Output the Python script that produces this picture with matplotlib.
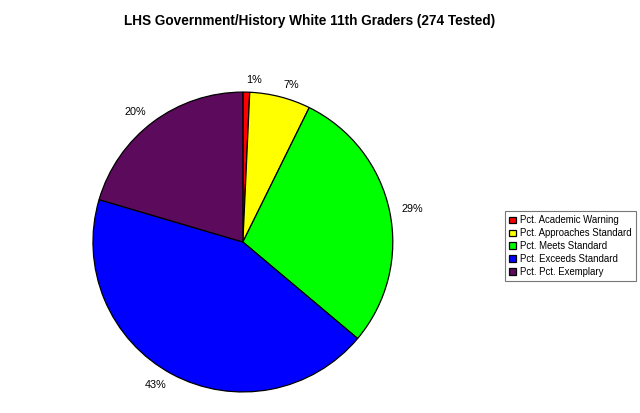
import matplotlib
matplotlib.use("Agg")
import matplotlib.pyplot as plt

plt.rcParams['font.family'] = ['Liberation Sans', 'DejaVu Sans']

# Student counts per band (274 tested)
categories = ['Pct. Academic Warning', 'Pct. Approaches Standard', 'Pct. Meets Standard',
              'Pct. Exceeds Standard', 'Pct. Pct. Exemplary']
counts = [2, 18, 79, 119, 56]
colors = ['#ff0000', '#ffff00', '#00ff00', '#0000ff', '#5c0a5c']

total = sum(counts)
pct_labels = ['%d%%' % round(100 * c / total) for c in counts]

fig = plt.figure(figsize=(6.4, 4.13), dpi=100)
ax = fig.add_axes([0.145, 0.051, 0.469, 0.726])

wedges, texts = ax.pie(counts, colors=colors, startangle=90, counterclock=False,
                       labels=pct_labels, labeldistance=1.08,
                       wedgeprops=dict(edgecolor='black', linewidth=0.9),
                       textprops=dict(fontsize=7.8))
ax.set_aspect('equal')
ax.set_xlim(-1, 1)
ax.set_ylim(-1, 1)

fig.suptitle('LHS Government/History White 11th Graders (274 Tested)',
             x=0.483, y=0.965, fontsize=9.8, fontweight='bold')

leg = fig.legend(wedges, categories, loc='center left', bbox_to_anchor=(0.789, 0.404),
                 fontsize=6.9, frameon=True, fancybox=False, edgecolor='#555555',
                 handlelength=0.7, handleheight=0.7, handletextpad=0.4,
                 labelspacing=0.3, borderpad=0.45, borderaxespad=0)
leg.get_frame().set_linewidth(0.8)

fig.savefig('out.png', dpi=100)
